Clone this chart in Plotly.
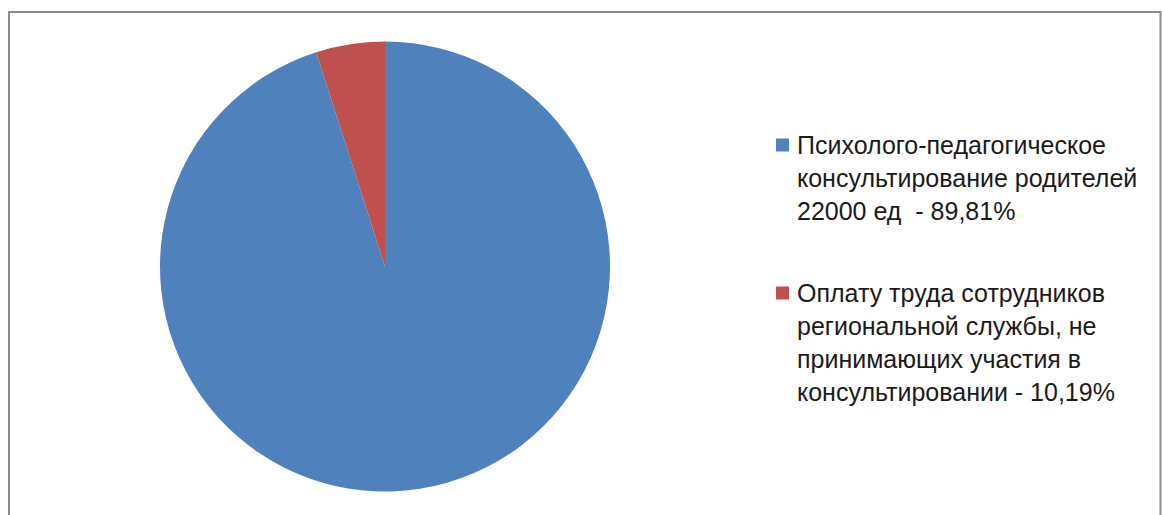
import plotly.graph_objects as go

OFF = 0
W, H = 1162, 515

labels = [
    "Психолого-педагогическое консультирование родителей 22000 ед  - 89,81%",
    "Оплату труда сотрудников региональной службы, не принимающих участия в консультировании - 10,19%",
]
legend_lines = [
    ["Психолого-педагогическое", "консультирование родителей", "22000 ед  - 89,81%"],
    ["Оплату труда сотрудников", "региональной службы, не", "принимающих участия в", "консультировании - 10,19%"],
]
values = [95.05, 4.95]
colors = ["#4F81BD", "#C0504D"]

def px(x):
    return (x - OFF) / W

def py(y):
    return 1 - (y - OFF) / H

fig = go.Figure()
fig.add_trace(go.Pie(
    labels=labels,
    values=values,
    sort=False,
    direction="clockwise",
    rotation=0,
    textinfo="none",
    hoverinfo="label+percent",
    marker=dict(colors=colors, line=dict(width=0)),
    domain=dict(x=[px(160), px(610)], y=[py(491.5), py(41.5)]),
    showlegend=False,
))

shapes = [
    dict(type="rect", xref="paper", yref="paper",
         x0=px(9), y0=py(540), x1=px(1160.5), y1=py(12),
         line=dict(color="#8C8C8C", width=2), fillcolor="rgba(0,0,0,0)", layer="below"),
]
annotations = []
item_tops = [145, 293]
line_h = 33
for i, lines in enumerate(legend_lines):
    y0 = item_tops[i]
    shapes.append(dict(type="rect", xref="paper", yref="paper",
                       x0=px(776), x1=px(789), y0=py(y0 + 6.5), y1=py(y0 - 6.5),
                       line=dict(width=0), fillcolor=colors[i]))
    for j, t in enumerate(lines):
        annotations.append(dict(
            text=t, xref="paper", yref="paper", x=px(795), y=py(y0 + j * line_h),
            xanchor="left", yanchor="middle", showarrow=False,
            font=dict(family="Liberation Sans", size=25, color="#1A1A1A"),
        ))

fig.update_layout(
    width=W, height=H,
    margin=dict(l=0, r=0, t=0, b=0),
    paper_bgcolor="white", plot_bgcolor="white",
    shapes=shapes, annotations=annotations,
)
fig.write_html(
    "out.html",
    config={"displayModeBar": False},
    post_script="document.body.style.margin='0';document.body.style.overflow='hidden';",
)
